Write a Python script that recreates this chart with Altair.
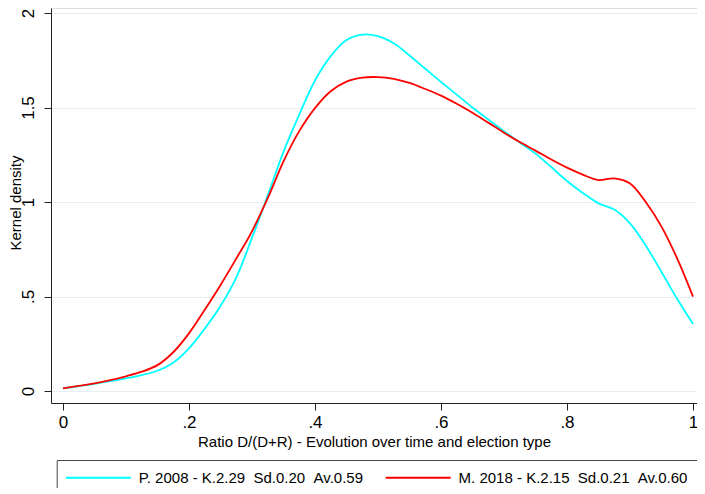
import altair as alt
import pandas as pd

# Ratio D/(D+R) grid
ratio = [0, 0.025, 0.05, 0.075, 0.1, 0.125, 0.15, 0.175, 0.2, 0.225, 0.25, 0.275,
         0.3, 0.325, 0.35, 0.375, 0.4, 0.425, 0.45, 0.475, 0.5, 0.525, 0.55,
         0.575, 0.6, 0.625, 0.65, 0.675, 0.7, 0.725, 0.75, 0.775, 0.8, 0.825,
         0.85, 0.875, 0.9, 0.925, 0.95, 0.975, 1.0]

# P. 2008 kernel density (cyan)
dens_p2008 = [0.014, 0.026, 0.038, 0.052, 0.067, 0.084, 0.107, 0.15, 0.226, 0.33,
              0.45, 0.60, 0.81, 1.035, 1.265, 1.462, 1.643, 1.772, 1.857, 1.886,
              1.878, 1.84, 1.775, 1.705, 1.635, 1.568, 1.50, 1.437, 1.375, 1.315,
              1.256, 1.185, 1.111, 1.048, 0.993, 0.96, 0.887, 0.77, 0.63, 0.487,
              0.355]

# M. 2018 kernel density (red)
dens_m2018 = [0.014, 0.027, 0.04, 0.057, 0.078, 0.102, 0.137, 0.205, 0.305, 0.43,
              0.56, 0.70, 0.845, 1.02, 1.215, 1.375, 1.497, 1.586, 1.637, 1.658,
              1.661, 1.652, 1.63, 1.598, 1.563, 1.52, 1.472, 1.42, 1.367, 1.317,
              1.272, 1.225, 1.182, 1.145, 1.116, 1.125, 1.098, 1.0, 0.87, 0.70,
              0.499]

# legend texts (double spaces kept visible with a no-break space)
series_names = ["P. 2008 - K.2.29 \u00a0Sd.0.20 \u00a0Av.0.59",
                "M. 2018 - K.2.15 \u00a0Sd.0.21 \u00a0Av.0.60"]
series_colors = ["#00FFFF", "#FF0000"]
x_ticks = [0, 0.2, 0.4, 0.6, 0.8, 1]
y_ticks = [0, 0.5, 1, 1.5, 2]

rows = []
for r, a, b in zip(ratio, dens_p2008, dens_m2018):
    rows.append({"ratio": r, "density": a, "series": series_names[0], "order": 0})
    rows.append({"ratio": r, "density": b, "series": series_names[1], "order": 1})
df = pd.DataFrame(rows)

FONT = "Liberation Sans"

chart = alt.Chart(df).mark_line(strokeWidth=1.8, interpolate="catmull-rom").encode(
    x=alt.X("ratio:Q",
            scale=alt.Scale(domain=[-0.019, 1.00635], nice=False, zero=False),
            axis=alt.Axis(values=x_ticks,
                          title="Ratio D/(D+R) - Evolution over time and election type",
                          labelExpr="datum.value == 0 || datum.value == 1 ? format(datum.value, '') : substring(format(datum.value, '.1f'), 1)",
                          grid=False, tickSize=7, labelPadding=4.5, labelFlush=False,
                          labelFontSize=17, labelFont=FONT, labelColor="#000000",
                          titleFontSize=15, titleFont=FONT, titleFontWeight="normal",
                          titleColor="#000000", titleBaseline="alphabetic", titleY=43,
                          domainColor="#222222", tickColor="#222222",
                          domainWidth=1, tickWidth=1)),
    y=alt.Y("density:Q",
            scale=alt.Scale(domain=[-0.0635, 2.0265], nice=False, zero=False),
            axis=alt.Axis(values=y_ticks, title="Kernel density",
                          labelExpr="datum.value == 0.5 ? '.5' : format(datum.value, '')",
                          labelAngle=270, labelAlign="center", labelBaseline="alphabetic",
                          grid=True, gridColor="#E6EEF1", gridWidth=1.2,
                          tickSize=7, labelPadding=10.5, labelFlush=False,
                          labelFontSize=17, labelFont=FONT, labelColor="#000000",
                          titleFontSize=15, titleFont=FONT, titleFontWeight="normal",
                          titleColor="#000000", titleAngle=270, titleAlign="center",
                          titleBaseline="alphabetic", titleX=-31, titleY=194.5,
                          domainColor="#222222", tickColor="#222222",
                          domainWidth=1, tickWidth=1)),
    color=alt.Color("series:N",
                    scale=alt.Scale(domain=series_names, range=series_colors),
                    legend=alt.Legend(orient="none", legendX=5.7, legendY=452,
                                      direction="horizontal", columns=2, title=None,
                                      symbolType="M-1.3,0H8.7", symbolSize=169,
                                      symbolStrokeWidth=1.8, labelOffset=57,
                                      columnPadding=17.9, padding=10,
                                      strokeColor="#444444", fillColor="#FFFFFF",
                                      labelFontSize=15, labelFont=FONT,
                                      labelColor="#000000", labelLimit=400)),
    order=alt.Order("order:Q"),
).properties(
    width=646, height=395,
    autosize=alt.AutoSizeParams(type="none"),
    padding={"left": 43, "top": 0, "right": 0, "bottom": 85},
).configure_view(stroke=None).configure(background="#FFFFFF")

chart.save("out.html", embed_options={"renderer": "svg", "actions": False})
